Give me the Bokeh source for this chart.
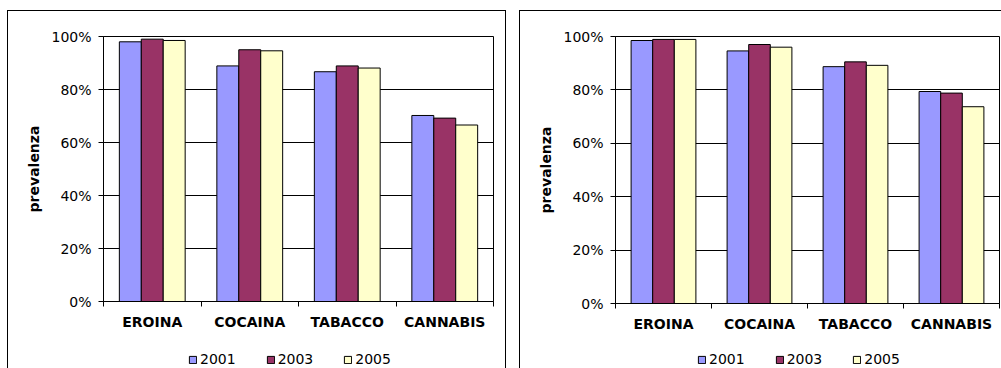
from bokeh.plotting import figure
from bokeh.models import (FixedTicker, NumeralTickFormatter, Legend, LegendItem,
                          ColumnDataSource, Range1d)
from bokeh.layouts import row, column
from bokeh.embed import file_html
from bokeh.resources import INLINE

categories = ["EROINA", "COCAINA", "TABACCO", "CANNABIS"]
years = ["2001", "2003", "2005"]
colors = ["#9999FF", "#993366", "#FFFFCC"]

left_2001 = [0.980, 0.889, 0.867, 0.702]
left_2003 = [0.990, 0.950, 0.889, 0.692]
left_2005 = [0.985, 0.946, 0.881, 0.666]

right_2001 = [0.985, 0.946, 0.887, 0.794]
right_2003 = [0.989, 0.970, 0.905, 0.788]
right_2005 = [0.989, 0.960, 0.892, 0.737]

y_ticks = [0, 0.2, 0.4, 0.6, 0.8, 1.0]

FONT = "DejaVu Sans"


def make(series, width, height, leg_height, mb_left, mb_right, mb_top, mb_bottom,
         leg_x, margin, shadow):
    n = len(categories)
    p = figure(width=width, height=height, x_range=Range1d(0, n), y_range=Range1d(0, 1),
               output_backend="svg", toolbar_location=None,
               min_border_left=mb_left, min_border_right=mb_right,
               min_border_top=mb_top, min_border_bottom=mb_bottom,
               background_fill_color="white", border_fill_alpha=0)
    bw = 0.225
    offsets = [-bw, 0, bw]
    for s, off, c in zip(series, offsets, colors):
        src = ColumnDataSource(dict(x=[i + 0.5 + off for i in range(n)], top=s))
        p.vbar(x="x", top="top", bottom=0, width=bw, source=src,
               fill_color=c, line_color="black", line_width=1)

    # x axis
    centers = [i + 0.5 for i in range(n)]
    p.xaxis.ticker = FixedTicker(ticks=centers, minor_ticks=list(range(n + 1)))
    p.xaxis.major_label_overrides = {c: cat for c, cat in zip(centers, categories)}
    p.xaxis.major_tick_line_color = None
    p.xaxis.major_tick_out = 0
    p.xaxis.major_tick_in = 0
    p.xaxis.minor_tick_line_color = "black"
    p.xaxis.minor_tick_out = 5
    p.xaxis.minor_tick_in = 0
    p.xaxis.major_label_standoff = 7
    p.xaxis.major_label_text_font = FONT
    p.xaxis.major_label_text_font_size = "14px"
    p.xaxis.major_label_text_font_style = "bold"
    p.xaxis.major_label_text_color = "black"
    p.xaxis.axis_line_color = "black"

    # y axis
    p.yaxis.ticker = FixedTicker(ticks=y_ticks, minor_ticks=[])
    p.yaxis.formatter = NumeralTickFormatter(format="0%")
    p.yaxis.major_tick_out = 5
    p.yaxis.major_tick_in = 0
    p.yaxis.major_tick_line_color = "black"
    p.yaxis.minor_tick_line_color = None
    p.yaxis.major_label_standoff = 7
    p.yaxis.major_label_text_font = FONT
    p.yaxis.major_label_text_font_size = "14px"
    p.yaxis.major_label_text_color = "black"
    p.yaxis.axis_line_color = "black"
    p.yaxis.axis_label = "prevalenza"
    p.yaxis.axis_label_text_font = FONT
    p.yaxis.axis_label_text_font_size = "14px"
    p.yaxis.axis_label_text_font_style = "bold"
    p.yaxis.axis_label_text_color = "black"
    p.yaxis.axis_label_standoff = 6

    p.xgrid.visible = False
    p.ygrid.ticker = FixedTicker(ticks=y_ticks)
    p.ygrid.grid_line_color = "black"
    p.ygrid.grid_line_width = 1

    p.outline_line_color = "black"
    p.outline_line_alpha = 1

    # legend strip below the chart
    lg = figure(width=width, height=leg_height, x_range=Range1d(0, 1), y_range=Range1d(0, 1),
                output_backend="svg", toolbar_location=None,
                x_axis_type=None, y_axis_type=None,
                min_border_left=0, min_border_right=0, min_border_top=0, min_border_bottom=0,
                background_fill_alpha=0, border_fill_alpha=0, outline_line_color=None)
    items = []
    for c, yr in zip(colors, years):
        # swatch renderer placed outside the visible range, used only for the legend glyph
        r = lg.vbar(x=[0.5], top=[-5], bottom=-6, width=0.1, fill_color=c,
                    line_color="black", line_width=1)
        items.append(LegendItem(label=yr, renderers=[r]))
    legend = Legend(items=items, orientation="horizontal", location=(leg_x, 1),
                    border_line_color=None, background_fill_alpha=0,
                    glyph_width=9, glyph_height=9, label_standoff=3, spacing=30,
                    label_text_font=FONT, label_text_font_size="14px",
                    label_text_color="black", label_height=14,
                    padding=0, margin=0)
    lg.add_layout(legend)

    col = column(p, lg, spacing=0)
    col.margin = margin
    col.styles = {"box-shadow": shadow}
    return col


c1 = make([left_2001, left_2003, left_2005], 499, 335, 23, 96, 13, 26, 44, 85,
          (10, 0, 0, 7), "inset 1px 1px 0 0 black, inset -1px 0 0 0 black")
c2 = make([right_2001, right_2003, right_2005], 482, 335, 23, 96, 2, 26, 42, 82,
          (10, 0, 0, 0), "inset 1px 1px 0 0 black")

layout = row(c1, c2, spacing=13)

open("out.html", "w").write(file_html(layout, INLINE))
